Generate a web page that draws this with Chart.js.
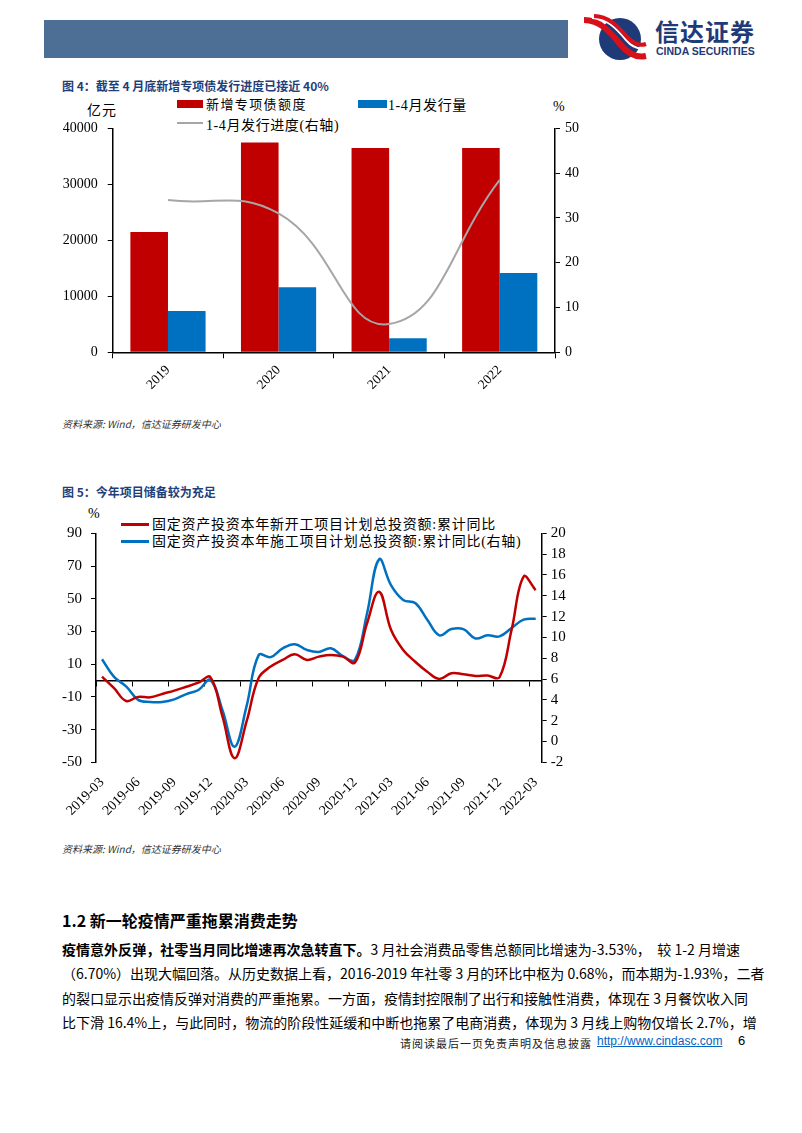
<!DOCTYPE html>
<html>
<head>
<meta charset="utf-8">
<script src="https://cdn.jsdelivr.net/npm/chart.js@4.4.1/dist/chart.umd.min.js"></script>
<style>
	body { margin: 0; background: #fff; }
	#page { position: relative; width: 802px; height: 1133px; overflow: hidden; font-family: "Noto Sans CJK SC", sans-serif; color: #000; }
	.abs { position: absolute; white-space: nowrap; }
	.title { font-size: 12px; font-weight: bold; color: #1f3f7a; }
	.src { font-size: 10px; font-style: italic; color: #333; }
	.lg { font-family: "Liberation Serif", "Noto Sans CJK SC", serif; }
	.sw { position: absolute; }
	.para { position: absolute; left: 62px; width: 678px; font-size: 14px; white-space: nowrap; text-align: justify; text-align-last: justify; }
	canvas { position: absolute; }
</style>
</head>
<body>
<div id="page">
	<div class="abs" style="left:44px;top:20px;width:524px;height:38px;background:#4d6f96;"></div>
	<svg class="abs" style="left:580px;top:14px;" width="70" height="50" viewBox="0 0 70 50">
		<circle cx="40" cy="25" r="21" fill="#1e3a78"/>
		<path d="M4 6 C20 6 30 18 40 30 C48 40 56 44 66 42" stroke="#d8101a" stroke-width="6" fill="none"/>
		<path d="M12 4 C26 4 36 14 46 26 C52 33 58 36 66 34" stroke="#fff" stroke-width="2" fill="none"/>
		<path d="M14 2 C28 2 38 12 48 24 C54 30 60 32 66 30" stroke="#d8101a" stroke-width="4" fill="none"/>
	</svg>
	<div class="abs" style="left:655px;top:15px;font-size:24px;line-height:32px;font-weight:bold;color:#1e3a78;letter-spacing:1px;">信达证券</div>
	<div class="abs" style="left:656px;top:45px;font-size:10.5px;line-height:12px;font-weight:bold;color:#1e3a78;font-family:'Liberation Sans',sans-serif;">CINDA SECURITIES</div>

	<div class="abs title" style="left:62px;top:77px;">图 4：截至 4 月底新增专项债发行进度已接近 40%</div>
	<div class="abs lg" style="left:87px;top:99px;font-size:14px;letter-spacing:1px;">亿元</div>
	<div class="abs lg" style="left:553px;top:99px;font-size:14px;">%</div>
	<div class="sw" style="left:177px;top:100px;width:26px;height:8px;background:#c00000;"></div>
	<div class="abs lg" style="left:206px;top:94px;font-size:13px;letter-spacing:1.4px;">新增专项债额度</div>
	<div class="sw" style="left:358px;top:100px;width:29px;height:8px;background:#0070c0;"></div>
	<div class="abs lg" style="left:388px;top:94px;font-size:14px;letter-spacing:0.6px;">1-4月发行量</div>
	<div class="sw" style="left:177px;top:122px;width:26px;height:2px;background:#a6a6a6;"></div>
	<div class="abs lg" style="left:206px;top:114px;font-size:14px;letter-spacing:0.6px;">1-4月发行进度(右轴)</div>
	<canvas id="chart1" style="left:40px;top:110px;" width="570" height="300"></canvas>
	<div class="abs src" style="left:62px;top:416px;">资料来源: Wind，信达证券研发中心</div>

	<div class="abs title" style="left:62px;top:483px;">图 5：今年项目储备较为充足</div>
	<div class="abs lg" style="left:88px;top:506px;font-size:14px;">%</div>
	<div class="sw" style="left:121px;top:523px;width:28px;height:3px;background:#c00000;"></div>
	<div class="abs lg" style="left:152px;top:513px;font-size:14px;letter-spacing:0.75px;">固定资产投资本年新开工项目计划总投资额:累计同比</div>
	<div class="sw" style="left:121px;top:540px;width:28px;height:3px;background:#0070c0;"></div>
	<div class="abs lg" style="left:152px;top:530px;font-size:14px;letter-spacing:0.75px;">固定资产投资本年施工项目计划总投资额:累计同比(右轴)</div>
	<canvas id="chart2" style="left:40px;top:505px;" width="570" height="330"></canvas>
	<div class="abs src" style="left:62px;top:841px;">资料来源: Wind，信达证券研发中心</div>

	<div class="abs" style="left:62px;top:908px;font-size:16px;font-weight:bold;">1.2 新一轮疫情严重拖累消费走势</div>
	<div class="para" style="top:939px;"><b>疫情意外反弹，社零当月同比增速再次急转直下。</b>3 月社会消费品零售总额同比增速为-3.53%，&nbsp; 较 1-2 月增速</div>
	<div class="para" style="top:963px;">（6.70%）出现大幅回落。从历史数据上看，2016-2019 年社零 3 月的环比中枢为 0.68%，而本期为-1.93%，二者</div>
	<div class="para" style="top:988px;">的裂口显示出疫情反弹对消费的严重拖累。一方面，疫情封控限制了出行和接触性消费，体现在 3 月餐饮收入同</div>
	<div class="para" style="top:1012px;">比下滑 16.4%上，与此同时，物流的阶段性延缓和中断也拖累了电商消费，体现为 3 月线上购物仅增长 2.7%，增</div>

	<div class="abs" style="left:400px;top:1035px;font-size:11px;letter-spacing:1px;color:#222;">请阅读最后一页免责声明及信息披露</div>
	<div class="abs" style="left:597px;top:1034px;font-size:12px;font-family:'Liberation Sans',sans-serif;color:#0563c1;text-decoration:underline;">http://www.cindasc.com</div>
	<div class="abs" style="left:738px;top:1033px;font-size:13px;font-family:'Liberation Sans',sans-serif;">6</div>
</div>

<script>
	// 图4 数据
	var years = ["2019", "2020", "2021", "2022"];
	var quota = [21500, 37500, 36500, 36500];
	var issued = [7400, 11600, 2500, 14150];
	var progress = [34.0, 31.0, 6.3, 38.5];
	var leftTicks1 = [0, 40000, 10000];
	var rightTicks1 = [0, 50, 10];

	// 图5 数据
	var months = ["2019-03", "2019-04", "2019-05", "2019-06", "2019-07", "2019-08", "2019-09", "2019-10", "2019-11", "2019-12",
		"2020-01", "2020-02", "2020-03", "2020-04", "2020-05", "2020-06", "2020-07", "2020-08", "2020-09", "2020-10", "2020-11", "2020-12",
		"2021-01", "2021-02", "2021-03", "2021-04", "2021-05", "2021-06", "2021-07", "2021-08", "2021-09", "2021-10", "2021-11", "2021-12",
		"2022-01", "2022-02", "2022-03"];
	var newStart = [2.4, -4.7, -12.5, -10.0, -10.3, -8.2, -6.2, -3.8, -1.3, 2.0,
		-22.0, -47.5, -25.0, 1.5, 8.5, 12.6, 16.0, 12.6, 14.6, 15.6, 14.6, 11.0,
		35.0, 54.3, 30.9, 18.7, 11.5, 5.4, 1.0, 4.5, 3.8, 2.8, 3.0, 2.0,
		31.0, 63.5, 55.3];
	var underway = [7.9, 6.2, 5.3, 4.0, 3.8, 3.8, 4.05, 4.55, 4.95, 5.9,
		3.0, -0.5, 3.4, 8.3, 8.1, 8.95, 9.35, 8.8, 8.6, 8.95, 8.2, 7.85,
		12.3, 17.5, 15.0, 13.6, 13.3, 11.7, 10.2, 10.8, 10.8, 9.9, 10.2, 10.1,
		10.9, 11.7, 11.8];
	var leftTicks2 = [-50, 90, 20];
	var rightTicks2 = [-2, 20, 2];

	var serif = "'Liberation Serif', 'Times New Roman', serif";

	function fixWidth(w) {
		return function(scale) { scale.width = w; };
	}
	function fixHeight(h) {
		return function(scale) { scale.height = h; };
	}
	function yAxis(range, pos, w, size, pad) {
		return {
			position: pos,
			min: range[0],
			max: range[1],
			afterFit: fixWidth(w),
			ticks: { stepSize: range[2], autoSkip: false, color: "#000", font: { family: serif, size: size }, padding: pad, callback: function(v) { return v; } },
			grid: { drawOnChartArea: false, color: "#000", tickLength: 5, lineWidth: 1 },
			border: { color: "#000", width: 1.5 }
		};
	}

	new Chart(document.getElementById("chart1"), {
		type: "bar",
		data: {
			labels: years,
			datasets: [
				{ type: "line", data: progress, yAxisID: "y1", borderColor: "#a6a6a6", borderWidth: 2, pointRadius: 0, tension: 0.45, order: 0 },
				{ data: quota, backgroundColor: "#c00000", yAxisID: "y", barPercentage: 1, categoryPercentage: 0.68, order: 1 },
				{ data: issued, backgroundColor: "#0070c0", yAxisID: "y", barPercentage: 1, categoryPercentage: 0.68, order: 1 }
			]
		},
		options: {
			responsive: false,
			animation: false,
			layout: { padding: { top: 17.3, left: 0, right: 0, bottom: 0 } },
			plugins: { legend: { display: false }, tooltip: { enabled: false } },
			scales: {
				x: {
					afterFit: fixHeight(57.7),
					ticks: { color: "#000", font: { family: serif, size: 13.5 }, minRotation: 45, maxRotation: 45, padding: 4 },
					grid: { offset: true, drawOnChartArea: false, color: "#000", tickLength: 6 },
					border: { color: "#000", width: 1.5 }
				},
				y: yAxis(leftTicks1, "left", 72.7, 14, 10),
				y1: yAxis(rightTicks1, "right", 55, 14, 5)
			}
		}
	});

	new Chart(document.getElementById("chart2"), {
		type: "line",
		data: {
			labels: months,
			datasets: [
				{ data: newStart, yAxisID: "y", borderColor: "#c00000", borderWidth: 2.5, pointRadius: 0, tension: 0.4 },
				{ data: underway, yAxisID: "y1", borderColor: "#0070c0", borderWidth: 2.5, pointRadius: 0, tension: 0.4 }
			]
		},
		options: {
			responsive: false,
			animation: false,
			layout: { padding: { top: 28.3, left: 0, right: 0, bottom: 0 } },
			plugins: { legend: { display: false }, tooltip: { enabled: false } },
			scales: {
				x: {
					position: { y: 0 },
					offset: true,
					ticks: { display: false },
					grid: {
						offset: true,
						drawOnChartArea: false,
						tickLength: 5,
						color: function(ctx) { return ctx.index % 3 === 0 ? "#000" : "rgba(0,0,0,0)"; }
					},
					border: { color: "#000", width: 1.5 }
				},
				x2: {
					type: "category",
					position: "bottom",
					offset: true,
					afterFit: fixHeight(72.7),
					grid: { display: false, drawTicks: false },
					border: { display: false },
					ticks: {
						autoSkip: false,
						minRotation: 45,
						maxRotation: 45,
						padding: 12,
						color: "#000",
						font: { family: serif, size: 14 },
						callback: function(v, i) { return i % 3 === 0 ? months[i] : null; }
					}
				},
				y: yAxis(leftTicks2, "left", 56, 15, 9),
				y1: yAxis(rightTicks2, "right", 68.3, 15, 4)
			}
		}
	});
</script>
</body>
</html>
